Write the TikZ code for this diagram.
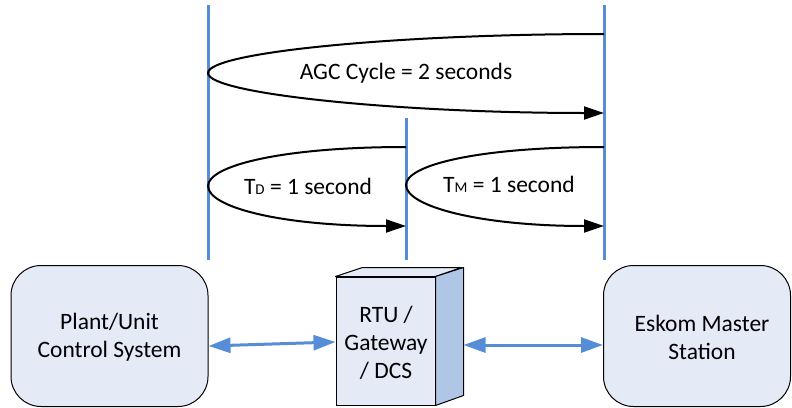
\documentclass[tikz,border=0pt]{standalone}
\usepackage{fontspec}
\setmainfont{Carlito}
\usetikzlibrary{arrows.meta}
\definecolor{lineblue}{RGB}{86,141,214}
\definecolor{boxfill}{RGB}{228,235,246}
\definecolor{sidefill}{RGB}{176,198,230}
\tikzset{
  vline/.style={lineblue, line width=3pt},
  cyclearrow/.style={black, line width=2pt, -{Triangle[length=20pt,width=13pt]}},
  linkarrow/.style={lineblue, line width=3pt, {Triangle[length=22pt,width=15pt]}-{Triangle[length=22pt,width=15pt]}},
  roundbox/.style={draw=black, line width=1pt, fill=boxfill, rounded corners=30pt, align=center, inner sep=0pt},
  frontbox/.style={draw=black, line width=1pt, fill=boxfill, align=center, inner sep=0pt, minimum width=99pt, minimum height=128pt},
  lbl/.style={font=\fontsize{23.5}{28}\selectfont, align=center, inner sep=0pt},
}
\newcommand{\smallcap}[1]{{\fontsize{15}{15}\selectfont #1}}
\begin{document}
\begin{tikzpicture}[x=1pt,y=-1pt]
\useasboundingbox (0,0) rectangle (792,407);
% vertical time lines
\coordinate (Atop) at (208,5);   \coordinate (Abot) at (208,260);
\coordinate (Btop) at (406,118); \coordinate (Bbot) at (406,260);
\coordinate (Ctop) at (604,5);   \coordinate (Cbot) at (604,260);
\draw[vline] (Atop) -- (Abot);
\draw[vline] (Btop) -- (Bbot);
\draw[vline] (Ctop) -- (Cbot);
% AGC cycle curve
\coordinate (agcS) at (604,34);
\coordinate (agcL) at (208,73);
\coordinate (agcE) at (604,113);
\draw[cyclearrow] (agcS) .. controls (400,34) and (208,52) .. (agcL)
  .. controls (208,94) and (400,113) .. (agcE);
\node[lbl] (agc) at (406,73) {AGC Cycle = 2 seconds};
% TD curve
\coordinate (tdS) at (406,147);
\coordinate (tdL) at (208,186);
\coordinate (tdE) at (406,226);
\draw[cyclearrow] (tdS) .. controls (280,147) and (208,166) .. (tdL)
  .. controls (208,207) and (280,226) .. (tdE);
\node[lbl] (td) at (308,186) {T\smallcap{D} = 1 second};
% TM curve
\coordinate (tmS) at (604,147);
\coordinate (tmL) at (406,185);
\coordinate (tmE) at (604,226);
\draw[cyclearrow] (tmS) .. controls (478,147) and (406,165) .. (tmL)
  .. controls (406,206) and (478,226) .. (tmE);
\node[lbl] (tm) at (509,184) {T\smallcap{M} = 1 second};
% boxes
\node[roundbox, minimum width=197pt, minimum height=141pt] (plant) at (109.5,336) {};
\node[lbl] (plantT) at (109.5,337) {Plant/Unit\\Control System};
\node[roundbox, minimum width=187pt, minimum height=141pt] (eskom) at (697,336) {};
\node[lbl] (eskomT) at (702,337) {Eskom Master\\Station};
% 3D RTU box
\node[frontbox] (rtu) at (385.5,341) {};
\draw[line width=1pt, fill=boxfill, line join=round] (rtu.north west) -- ++(27,-9) -- ++(99,0) -- (rtu.north east) -- cycle;
\draw[line width=1pt, fill=sidefill, line join=round] (rtu.north east) -- ++(28,-9) -- ++(0,128) -- (rtu.south east) -- cycle;
\coordinate (rtuSide) at ([xshift=28pt,yshift=-4pt]rtu.east);
\node[lbl] (rtuT) at (386,343) {RTU /\\Gateway\\/ DCS};
% links
\draw[linkarrow] ([yshift=-10pt]plant.east) -- ([yshift=-1pt]rtu.west);
\draw[linkarrow] (rtuSide) -- ([yshift=-9pt]eskom.west);
\end{tikzpicture}
\end{document}
